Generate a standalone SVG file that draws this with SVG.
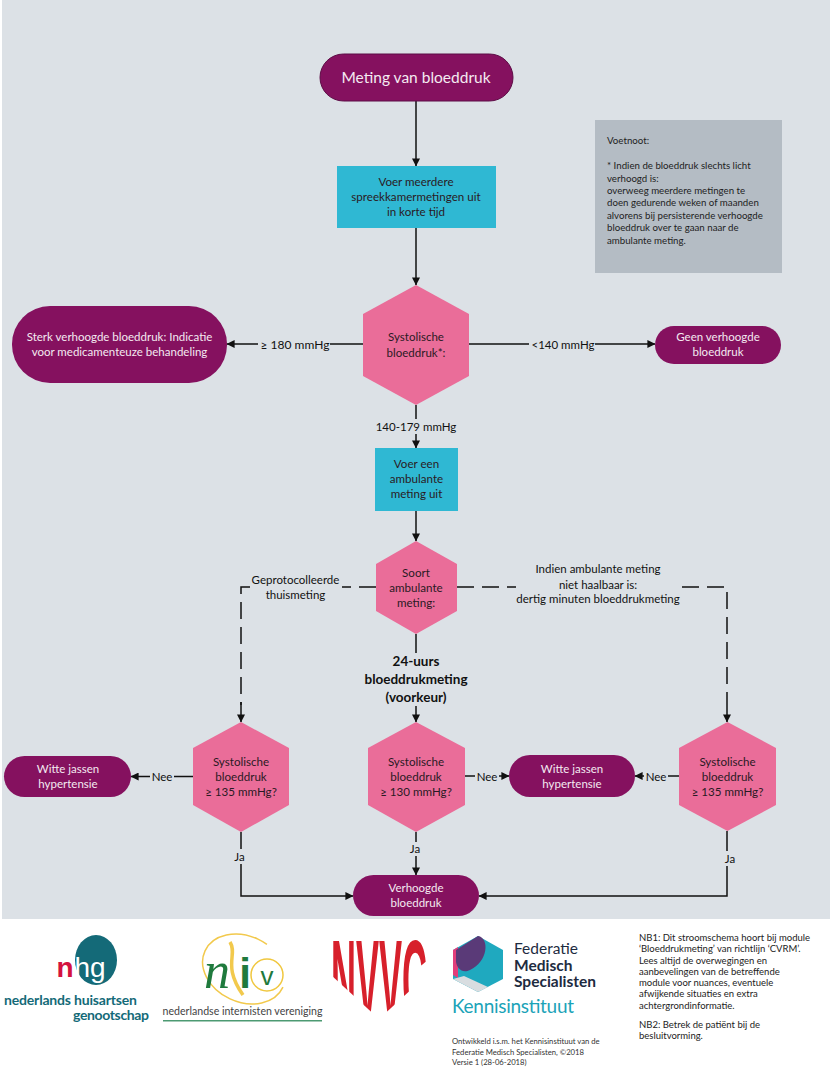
<svg xmlns="http://www.w3.org/2000/svg" width="831" height="1070" viewBox="0 0 831 1070">
<style>
text{font-family:"Lato","Liberation Sans",sans-serif;text-anchor:middle}
.term{fill:#85115f}
.proc{fill:#2fb8d3}
.hex{fill:#ea6d99}
.tw{fill:#f4eaf1;font-size:11.500px}
.td{fill:#2a1a24;font-size:11.600px}
.tl{fill:#111;font-size:11.500px}
.line{fill:none;stroke:#111;stroke-width:1.500}
.dash{fill:none;stroke:#111;stroke-width:1.500;stroke-dasharray:17 8}
.foot{fill:#222;font-size:9.700px;text-anchor:start}
.nb{fill:#222;font-size:9.500px;text-anchor:start}
.small{fill:#333;font-size:7.700px;text-anchor:start}
</style>
<defs>
<marker id="arrow" viewBox="0 0 10 10" refX="9.500" refY="5" markerWidth="8" markerHeight="8" markerUnits="userSpaceOnUse" orient="auto"><path d="M0 0L10 5L0 10Z" fill="#111"/></marker>
<clipPath id="heart"><path d="M331 936H427V975L379 1019L331 975Z"/></clipPath>
</defs>
<rect width="831" height="1070" fill="#fff"/>
<rect x="2" y="0" width="828" height="919" fill="#dce1e6"/>

<g id="connectors">
<path class="line" marker-end="url(#arrow)" d="M416 101V166"/>
<path class="line" marker-end="url(#arrow)" d="M416 228V285"/>
<path class="line" marker-end="url(#arrow)" d="M363 344H227"/>
<path class="line" marker-end="url(#arrow)" d="M469 344H655"/>
<path class="line" marker-end="url(#arrow)" d="M416 405V448"/>
<path class="line" marker-end="url(#arrow)" d="M416 511V541"/>
<path class="line" d="M416 634V653"/>
<path class="line" marker-end="url(#arrow)" d="M416 706V722"/>
<path class="dash" d="M376 587H241V705"/>
<path class="line" marker-end="url(#arrow)" d="M241 702V722"/>
<path class="dash" d="M457 587H727V705"/>
<path class="line" marker-end="url(#arrow)" d="M727 705V722"/>
<path class="line" marker-end="url(#arrow)" d="M193 776.500H131"/>
<path class="line" marker-end="url(#arrow)" d="M465 776H509"/>
<path class="line" marker-end="url(#arrow)" d="M679 776H635"/>
<path class="line" marker-end="url(#arrow)" d="M241 832V896H353"/>
<path class="line" marker-end="url(#arrow)" d="M416 832V875"/>
<path class="line" marker-end="url(#arrow)" d="M727 831V896H479"/>
</g>

<g id="connector-labels">
<rect x="258" y="335" width="72" height="18" fill="#dce1e6"/>
<text class="tl" x="295" y="348.500" style="font-size:12px">≥ 180 mmHg</text>
<rect x="529" y="337" width="66" height="14" fill="#dce1e6"/>
<text class="tl" x="563" y="348.500">&lt;140 mmHg</text>
<rect x="376" y="419" width="80" height="15" fill="#dce1e6"/>
<text class="tl" x="416" y="430.500">140-179 mmHg</text>
<rect x="250" y="572" width="92" height="30" fill="#dce1e6"/>
<text class="tl" x="295.500" y="584">Geprotocolleerde</text>
<text class="tl" x="295.500" y="599">thuismeting</text>
<rect x="516" y="560" width="164" height="45" fill="#dce1e6"/>
<text class="tl" x="598" y="573">Indien ambulante meting</text>
<text class="tl" x="598" y="589">niet haalbaar is:</text>
<text class="tl" x="598" y="603">dertig minuten bloeddrukmeting</text>
<text x="416" y="666" style="font-size:13.500px;font-weight:700;fill:#111">24-uurs</text>
<text x="416" y="684" style="font-size:13.500px;font-weight:700;fill:#111">bloeddrukmeting</text>
<text x="416" y="702" style="font-size:13.500px;font-weight:700;fill:#111">(voorkeur)</text>
<rect x="150" y="769" width="24" height="15" fill="#dce1e6"/>
<text class="tl" x="162" y="781">Nee</text>
<rect x="475" y="769" width="24" height="15" fill="#dce1e6"/>
<text class="tl" x="487" y="781">Nee</text>
<rect x="644" y="769" width="24" height="15" fill="#dce1e6"/>
<text class="tl" x="656" y="781">Nee</text>
<rect x="232" y="849" width="16" height="15" fill="#dce1e6"/>
<text class="tl" x="239.500" y="861">Ja</text>
<rect x="407" y="842" width="16" height="14" fill="#dce1e6"/>
<text class="tl" x="415" y="853">Ja</text>
<rect x="722" y="851" width="16" height="15" fill="#dce1e6"/>
<text class="tl" x="730" y="863">Ja</text>
</g>

<g id="start"><rect class="term" x="320" y="54" width="193" height="47" rx="23.500" stroke="#5d0c46"/><text x="416" y="83" style="fill:#f4eaf1;font-size:15.500px">Meting van bloeddruk</text></g>
<g id="spreekkamer"><rect class="proc" x="337" y="166" width="159" height="62"/><text class="td" x="416" y="186">Voer meerdere</text><text class="td" x="416" y="201">spreekkamermetingen uit</text><text class="td" x="416" y="216">in korte tijd</text></g>
<g id="systolisch"><polygon class="hex" points="416,285 469,314 469,376 416,405 363,376 363,314"/><text class="td" x="416" y="341" style="font-size:11.500px">Systolische</text><text class="td" x="416" y="357" style="font-size:11.500px">bloeddruk*:</text></g>
<g id="sterk"><rect class="term" x="12" y="306" width="215" height="77" rx="38"/><text class="tw" x="119.500" y="341">Sterk verhoogde bloeddruk: Indicatie</text><text class="tw" x="119.500" y="356">voor medicamenteuze behandeling</text></g>
<g id="geen"><rect class="term" x="655" y="326" width="126" height="38" rx="19"/><text class="tw" x="718" y="341">Geen verhoogde</text><text class="tw" x="718" y="356">bloeddruk</text></g>
<g id="ambulant"><rect class="proc" x="375" y="448" width="83" height="63"/><text class="td" x="416.500" y="468">Voer een</text><text class="td" x="416.500" y="483">ambulante</text><text class="td" x="416.500" y="498">meting uit</text></g>
<g id="soort"><polygon class="hex" points="416,541 457,564 457,611 416,634 376,611 376,564"/><text class="td" x="416" y="577">Soort</text><text class="td" x="416" y="592">ambulante</text><text class="td" x="416" y="607">meting:</text></g>
<g id="sys-links"><polygon class="hex" points="241,722 289,748 289,805 241,832 193,805 193,748"/><text class="td" x="241" y="766">Systolische</text><text class="td" x="241" y="781">bloeddruk</text><text class="td" x="241" y="796">≥ 135 mmHg?</text></g>
<g id="sys-midden"><polygon class="hex" points="416,722 465,748 465,805 416,832 368,805 368,748"/><text class="td" x="416" y="766">Systolische</text><text class="td" x="416" y="781">bloeddruk</text><text class="td" x="416" y="796">≥ 130 mmHg?</text></g>
<g id="sys-rechts"><polygon class="hex" points="727.500,722 776,748 776,805 727.500,831 679,805 679,748"/><text class="td" x="727.500" y="766">Systolische</text><text class="td" x="727.500" y="781">bloeddruk</text><text class="td" x="727.500" y="796">≥ 135 mmHg?</text></g>
<g id="witte-links"><rect class="term" x="4" y="756" width="127" height="41" rx="20.500"/><text class="tw" x="68" y="773">Witte jassen</text><text class="tw" x="68" y="788">hypertensie</text></g>
<g id="witte-midden"><rect class="term" x="509" y="755" width="126" height="42" rx="21"/><text class="tw" x="572" y="773">Witte jassen</text><text class="tw" x="572" y="788">hypertensie</text></g>
<g id="verhoogd"><rect class="term" x="353" y="875" width="126" height="41" rx="20.500"/><text class="tw" x="416" y="892">Verhoogde</text><text class="tw" x="416" y="907">bloeddruk</text></g>

<g id="voetnoot">
<rect x="595" y="120" width="187" height="153" fill="#b4bcc4"/>
<text class="foot" x="607" y="144">Voetnoot:</text>
<text class="foot" x="607" y="169">* Indien de bloeddruk slechts licht</text>
<text class="foot" x="607" y="181.500">verhoogd is:</text>
<text class="foot" x="607" y="194">overweeg meerdere metingen te</text>
<text class="foot" x="607" y="206">doen gedurende weken of maanden</text>
<text class="foot" x="607" y="218.500">alvorens bij persisterende verhoogde</text>
<text class="foot" x="607" y="231">bloeddruk over te gaan naar de</text>
<text class="foot" x="607" y="243.500">ambulante meting.</text>
</g>

<g id="logo-nhg">
<ellipse cx="96" cy="960" rx="21" ry="25" fill="#146a78"/>
<text x="65" y="977" style="fill:#d4123f;font-size:28px;font-weight:900;font-family:'Liberation Sans',sans-serif">n</text>
<text x="90" y="977" style="fill:#fff;font-size:28px;font-family:'Liberation Sans',sans-serif">hg</text>
<text x="70.500" y="1005" textLength="133" style="fill:#146a78;font-size:14px;font-weight:700">nederlands huisartsen</text>
<text x="111" y="1020" textLength="76" style="fill:#146a78;font-size:14px;font-weight:700">genootschap</text>
</g>
<g id="logo-niv">
<ellipse cx="244" cy="969" rx="43" ry="33" transform="rotate(25 244 969)" fill="none" stroke="#f2c94c" stroke-width="1.500" stroke-dasharray="190 80"/>
<circle cx="267" cy="975" r="16" fill="#fff" stroke="#f0c73f" stroke-width="1.500"/>
<path d="M230 942C238 955 222 965 243 995" fill="none" stroke="#f2c94c" stroke-width="3.500"/>
<text x="217" y="988" style="fill:#1f7a3d;font-size:52px;font-style:italic;font-family:'Liberation Serif',serif">n</text>
<text x="245" y="988" style="fill:#1f7a3d;font-size:42px;font-weight:700;font-family:'Liberation Sans',sans-serif">i</text>
<text x="267" y="985" style="fill:#1f7a3d;font-size:26px;font-family:'Liberation Sans',sans-serif">v</text>
<text x="242.500" y="1015" style="fill:#444;font-size:10.600px">nederlandse internisten vereniging</text>
<rect x="163" y="1020" width="159" height="1.500" fill="#4c9a72"/>
</g>
<g id="logo-nvvc" clip-path="url(#heart)">
<text transform="translate(379 1019) scale(1 3)" x="0" y="0" textLength="96" lengthAdjust="spacingAndGlyphs" style="fill:#d7202b;font-size:38px;font-weight:700;font-family:'Liberation Sans',sans-serif">NVVC</text>
</g>
<g id="logo-fms">
<polygon points="478,936 503,950 503,979 478,992 453,979 453,950" fill="#1fa9bf"/>
<polygon points="453,950 458,947 458,978 453,975" fill="#e23e7b"/>
<path d="M456 950L478 936C490 938 488 962 470 970C462 974 457 968 456 962Z" fill="#5a3a78"/>
<polygon points="453,979 478,992 488,987 464,976" fill="#d8dde0"/>
<text x="514" y="954" style="fill:#1d2b3f;font-size:15.500px;text-anchor:start">Federatie</text>
<text x="514" y="970.500" style="fill:#1d2b3f;font-size:15.500px;font-weight:700;text-anchor:start">Medisch</text>
<text x="514" y="987" style="fill:#1d2b3f;font-size:15.500px;font-weight:700;text-anchor:start">Specialisten</text>
<text x="452" y="1013" textLength="122" style="fill:#1ba3b8;font-size:19px;text-anchor:start">Kennisinstituut</text>
<text class="small" x="452" y="1044">Ontwikkeld i.s.m. het Kennisinstituut van de</text>
<text class="small" x="452" y="1054.500">Federatie Medisch Specialisten, ©2018</text>
<text class="small" x="452" y="1064.500">Versie 1 (28-06-2018)</text>
</g>
<g id="nb">
<text class="nb" x="639" y="941">NB1: Dit stroomschema hoort bij module</text>
<text class="nb" x="639" y="952">‘Bloeddrukmeting’ van richtlijn ‘CVRM’.</text>
<text class="nb" x="639" y="963.500">Lees altijd de overwegingen en</text>
<text class="nb" x="639" y="975">aanbevelingen van de betreffende</text>
<text class="nb" x="639" y="986">module voor nuances, eventuele</text>
<text class="nb" x="639" y="997">afwijkende situaties en extra</text>
<text class="nb" x="639" y="1008.500">achtergrondinformatie.</text>
<text class="nb" x="639" y="1027.500">NB2: Betrek de patiënt bij de</text>
<text class="nb" x="639" y="1039">besluitvorming.</text>
</g>
</svg>
